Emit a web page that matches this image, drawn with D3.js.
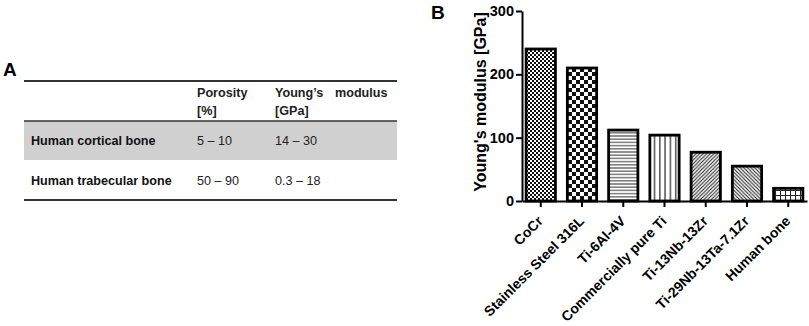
<!DOCTYPE html>
<html>
<head>
<meta charset="utf-8">
<script src="https://cdn.jsdelivr.net/npm/d3@7"></script>
<style>
  html, body { margin: 0; padding: 0; background: #fff; }
  svg { display: block; font-family: "Liberation Sans", Arial, sans-serif; }
</style>
</head>
<body>
<svg id="chart" width="809" height="326"></svg>
<script>
// ---- Data ----
const categories = ["CoCr", "Stainless Steel 316L", "Ti-6Al-4V", "Commercially pure Ti", "Ti-13Nb-13Zr", "Ti-29Nb-13Ta-7.1Zr", "Human bone"];
const modulusValues = [240, 210, 112, 104, 77, 55, 20];
const yTickValues = [0, 100, 200, 300];
const patternIds = ["pCheckFine", "pCheckCoarse", "pHoriz", "pVert", "pDiagUp", "pDiagDown", "pGrid"];

const tableHeaders = ["Porosity", "[%]", "Young\u2019s", "modulus", "[GPa]"];
const tableRows = ["Human cortical bone", "Human trabecular bone"];
const porosityRanges = ["5 \u2013 10", "50 \u2013 90"];
const modulusRanges = ["14 \u2013 30", "0.3 \u2013 18"];

const svg = d3.select("#chart");
const defs = svg.append("defs");

// ---- Patterns ----
function pat(id, w, h) {
  const p = defs.append("pattern").attr("id", id).attr("patternUnits", "userSpaceOnUse")
    .attr("width", w).attr("height", h);
  p.append("rect").attr("width", w).attr("height", h).attr("fill", "#fff");
  return p;
}
let p = pat("pCheckFine", 4, 4);
p.append("rect").attr("x", 0).attr("y", 0).attr("width", 2).attr("height", 2).attr("fill", "#111");
p.append("rect").attr("x", 2).attr("y", 2).attr("width", 2).attr("height", 2).attr("fill", "#111");
p = pat("pCheckCoarse", 8, 8);
p.append("rect").attr("x", 0).attr("y", 0).attr("width", 4).attr("height", 4).attr("fill", "#111");
p.append("rect").attr("x", 4).attr("y", 4).attr("width", 4).attr("height", 4).attr("fill", "#111");
p = pat("pHoriz", 6, 3.2);
p.append("line").attr("x1", 0).attr("x2", 6).attr("y1", 1.6).attr("y2", 1.6).attr("stroke", "#333").attr("stroke-width", 1);
p = pat("pVert", 5.3, 6);
p.append("line").attr("x1", 2.6).attr("x2", 2.6).attr("y1", 0).attr("y2", 6).attr("stroke", "#333").attr("stroke-width", 1.3);
p = pat("pDiagUp", 3.6, 3.6);
p.append("path").attr("d", "M-1,1 L1,-1 M0,3.6 L3.6,0 M2.6,4.6 L4.6,2.6").attr("stroke", "#222").attr("stroke-width", 1.1);
p = pat("pDiagDown", 3.6, 3.6);
p.append("path").attr("d", "M-1,2.6 L1,4.6 M0,0 L3.6,3.6 M2.6,-1 L4.6,1").attr("stroke", "#222").attr("stroke-width", 1.1);
p = pat("pGrid", 5, 5);
p.append("path").attr("d", "M0,0.5 L5,0.5 M0.5,0 L0.5,5").attr("stroke", "#222").attr("stroke-width", 1.1);

// ---- Panel A: table ----
const tA = svg.append("g");
tA.append("text").attr("x", 3).attr("y", 76).attr("font-size", 19).attr("font-weight", "bold").attr("fill", "#000").text("A");
tA.append("rect").attr("x", 24).attr("y", 121).attr("width", 373).attr("height", 39).attr("fill", "#d0d0d0");
[81, 121, 200].forEach(y => {
  tA.append("line").attr("x1", 24).attr("x2", 397).attr("y1", y).attr("y2", y)
    .attr("stroke", "#333").attr("stroke-width", y === 121 ? 1.5 : 1.8);
});
const hdrPos = [[197, 97], [197, 115], [275, 97], [335, 97], [275, 115]];
tableHeaders.forEach((t, i) => {
  tA.append("text").attr("x", hdrPos[i][0]).attr("y", hdrPos[i][1]).attr("font-size", 12.6)
    .attr("font-weight", "bold").attr("fill", "#222").text(t);
});
const rowY = [145, 185];
tableRows.forEach((r, i) => {
  tA.append("text").attr("x", 31).attr("y", rowY[i]).attr("font-size", 12.6).attr("font-weight", "bold").attr("fill", "#111").text(r);
  tA.append("text").attr("x", 197).attr("y", rowY[i]).attr("font-size", 12.6).attr("fill", "#222").text(porosityRanges[i]);
  tA.append("text").attr("x", 275).attr("y", rowY[i]).attr("font-size", 12.6).attr("fill", "#222").text(modulusRanges[i]);
});

// ---- Panel B: bar chart ----
const x = d3.scaleBand().domain(categories).range([522, 807]).paddingInner(0.29).paddingOuter(0.1);
const y = d3.scaleLinear().domain([0, 300]).range([201, 11]);
const gB = svg.append("g");
gB.append("text").attr("x", 431).attr("y", 18.5).attr("font-size", 19).attr("font-weight", "bold").attr("fill", "#000").text("B");

gB.selectAll("rect.bar").data(categories).join("rect").attr("class", "bar")
  .attr("x", d => x(d)).attr("width", x.bandwidth())
  .attr("y", (d, i) => y(modulusValues[i]))
  .attr("height", (d, i) => y(0) - y(modulusValues[i]))
  .attr("fill", (d, i) => `url(#${patternIds[i]})`)
  .attr("stroke", "#000").attr("stroke-width", 2.8);

// y axis
const yAxis = gB.append("g").attr("transform", "translate(522,0)")
  .call(d3.axisLeft(y).tickValues(yTickValues).tickSize(6).tickPadding(2).tickSizeOuter(0));
yAxis.select(".domain").attr("stroke", "#000").attr("stroke-width", 2);
yAxis.selectAll(".tick line").attr("stroke", "#000").attr("stroke-width", 2);
yAxis.selectAll(".tick text").attr("font-size", 14.5).attr("font-weight", "bold").attr("fill", "#000")
  .attr("font-family", "Liberation Sans, Arial, sans-serif");

// x axis
const xAxis = gB.append("g").attr("transform", "translate(0,201)")
  .call(d3.axisBottom(x).tickSize(6).tickSizeOuter(0).tickFormat(""));
xAxis.select(".domain").attr("stroke", "#000").attr("stroke-width", 2);
xAxis.selectAll(".tick line").attr("stroke", "#000").attr("stroke-width", 2);

gB.selectAll("text.xlab").data(categories).join("text").attr("class", "xlab")
  .attr("transform", d => `translate(${x(d) + x.bandwidth() / 2 + 3},222) rotate(-45)`)
  .attr("text-anchor", "end").attr("font-size", 14).attr("font-weight", "bold").attr("fill", "#000")
  .text(d => d);

gB.append("text").attr("transform", "translate(486,102) rotate(-90)")
  .attr("text-anchor", "middle").attr("font-size", 16).attr("font-weight", "bold").attr("fill", "#000")
  .text("Young's modulus [GPa]");
</script>
</body>
</html>
